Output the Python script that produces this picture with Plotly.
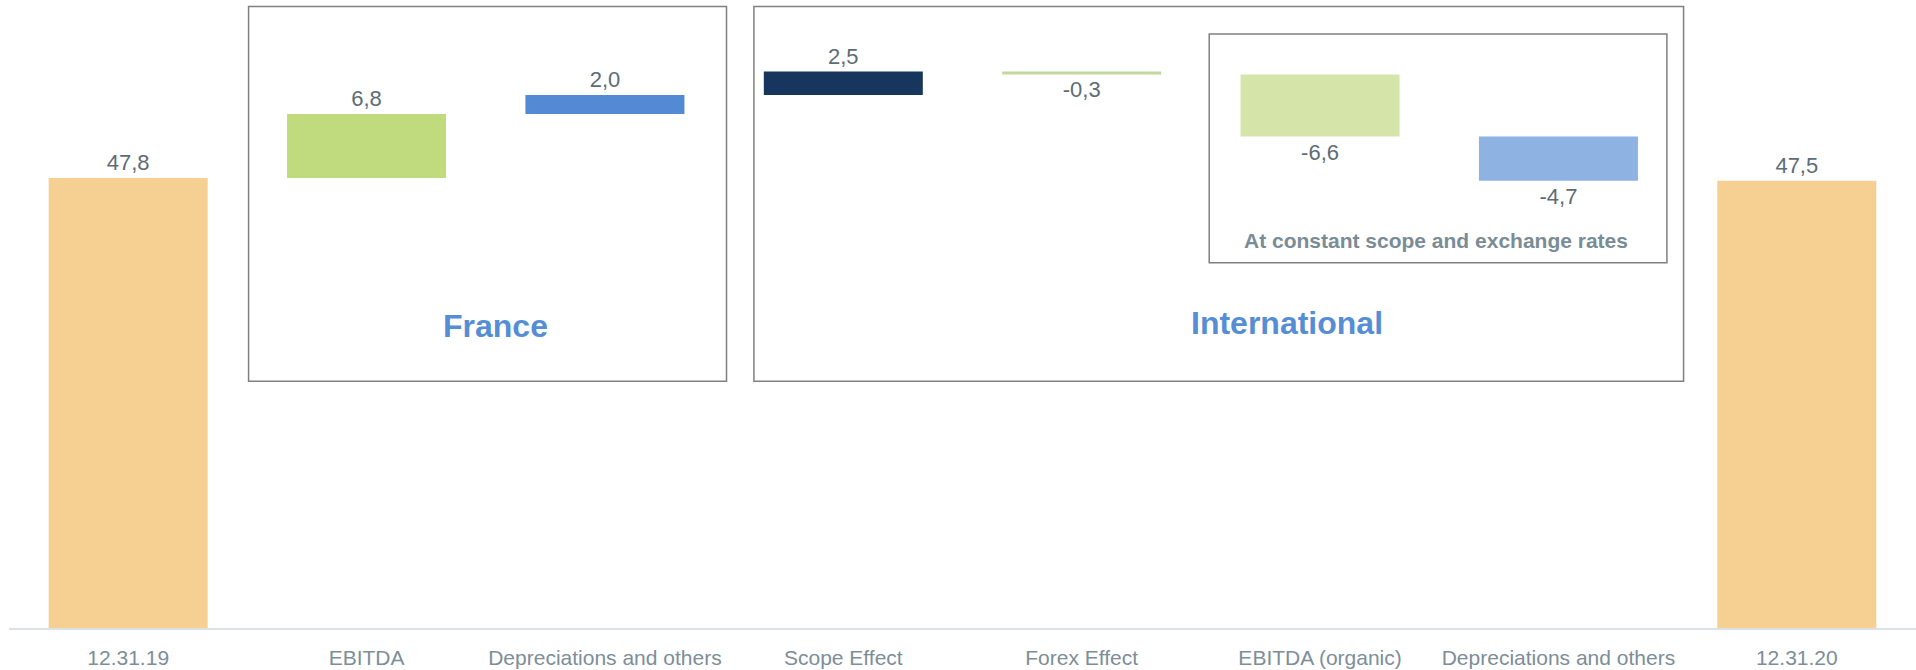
import plotly.graph_objects as go

categories = ["12.31.19", "EBITDA", "Depreciations and others", "Scope Effect",
              "Forex Effect", "EBITDA (organic)", "Depreciations and others", "12.31.20"]
values = [47.8, 6.8, 2.0, 2.5, -0.3, -6.6, -4.7, 47.5]
is_total = [True, False, False, False, False, False, False, True]
colors = ["#F6CF92", "#BFDB7E", "#538AD3", "#17365D", "#C3D99B", "#D5E5AA", "#8EB2E2", "#F6CF92"]

# running bases
bases = []
run = 0.0
for v, t in zip(values, is_total):
    if t:
        bases.append(0.0)
        run = v
    else:
        bases.append(run)
        run += v

labels = [f"{v:.1f}".replace(".", ",") for v in values]
xpos = list(range(len(categories)))

FONT = "Liberation Sans, Arial, sans-serif"

fig = go.Figure()
fig.add_trace(go.Bar(
    x=xpos, y=values, base=bases,
    marker=dict(color=colors, line=dict(width=0)),
    text=labels, textposition="outside", constraintext="none", cliponaxis=False,
    textfont=dict(family=FONT, size=22, color="#5D6C76"),
    hoverinfo="skip",
))

box_line = dict(color="#808080", width=1.5)
# France box
fig.add_shape(type="rect", xref="x", yref="y", x0=0.505, x1=2.51, y0=26.2, y1=66.0, line=box_line, layer="below")
# International box
fig.add_shape(type="rect", xref="x", yref="y", x0=2.625, x1=6.525, y0=26.2, y1=66.0, line=box_line, layer="below")
# constant scope box
fig.add_shape(type="rect", xref="x", yref="y", x0=4.535, x1=6.455, y0=38.8, y1=63.1, line=box_line, layer="below")

fig.add_annotation(x=1.54, y=32.1, xref="x", yref="y", text="<b>France</b>", showarrow=False,
                   font=dict(family=FONT, size=32, color="#558ED5"))
fig.add_annotation(x=4.86, y=32.4, xref="x", yref="y", text="<b>International</b>", showarrow=False,
                   font=dict(family=FONT, size=32, color="#558ED5"))
fig.add_annotation(x=5.485, y=41.2, xref="x", yref="y", text="<b>At constant scope and exchange rates</b>",
                   showarrow=False,
                   font=dict(family=FONT, size=21, color="#7A8C96"))

fig.update_layout(
    width=1916, height=670,
    margin=dict(l=9, r=0, t=0, b=42),
    paper_bgcolor="white", plot_bgcolor="white",
    bargap=0.333, showlegend=False,
    xaxis=dict(range=[-0.5, 7.5], tickvals=xpos, ticktext=categories,
               showline=True, linecolor="#DCE1E4", linewidth=2, showgrid=False, zeroline=False,
               ticks="outside", ticklen=10, tickcolor="rgba(0,0,0,0)",
               tickfont=dict(family=FONT, size=21, color="#7D8E98")),
    yaxis=dict(range=[0, 66.7], visible=False, showgrid=False, zeroline=False),
)

fig.write_html("out.html", config={"displayModeBar": False},
               post_script="document.body.style.margin='0';document.body.style.overflow='hidden';")
